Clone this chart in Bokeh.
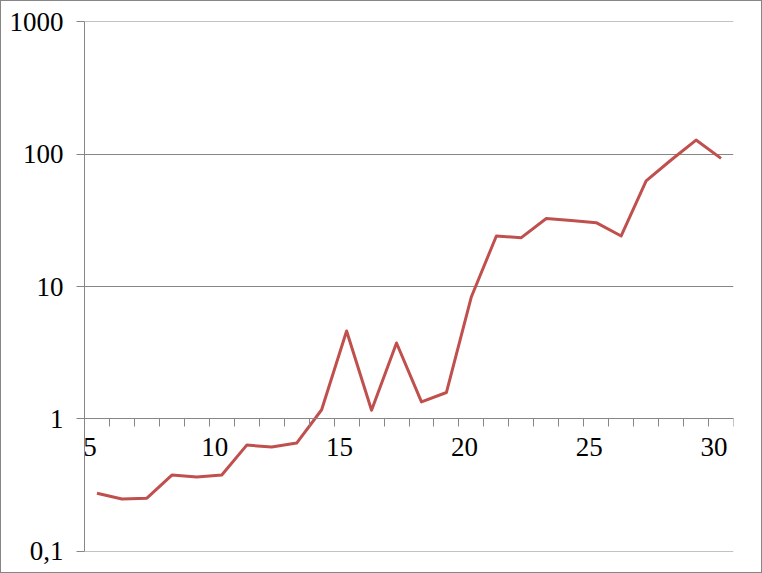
from bokeh.plotting import figure
from bokeh.models import FixedTicker, CustomJSTickFormatter
from bokeh.core.properties import value
from bokeh.embed import file_html
from bokeh.resources import INLINE

# ---- data ----
categories = list(range(5, 31))
values = [0.273, 0.247, 0.251, 0.375, 0.362, 0.375, 0.632, 0.611, 0.655, 1.17,
          4.61, 1.16, 3.74, 1.34, 1.58, 8.37, 24.1, 23.4, 32.7, 31.6,
          30.4, 24.1, 62.8, 90.5, 128.0, 93.1]
x_label_positions = [5, 10, 15, 20, 25, 30]
x_tick_labels = ["5", "10", "15", "20", "25", "30"]
y_ticks = [0.1, 1, 10, 100, 1000]
y_tick_labels = ["0,1", "1", "10", "100", "1000"]
x_boundaries = [c - 0.5 for c in categories] + [categories[-1] + 0.5]
y_cross = [1] * len(x_label_positions)

# ---- style ----
GRAY = "#868686"
RED = "#C0504D"
FONT = "Liberation Serif"
FS = "27px"
PAD = 10 ** 0.00378  # tiny log padding so the 0,1 and 1000 gridlines are not clipped

p = figure(width=762, height=573,
           x_range=(categories[0] - 0.5, categories[-1] + 0.5),
           y_range=(y_ticks[0] / PAD, y_ticks[-1] * PAD), y_axis_type="log",
           output_backend="svg", toolbar_location=None,
           min_border_left=84, min_border_right=29,
           min_border_top=21, min_border_bottom=22,
           styles={"box-shadow": f"inset 0 0 0 1px {GRAY}"})
p.outline_line_color = None
p.background_fill_color = None
p.border_fill_color = None

# x axis crossing at y = 1
xa = p.xaxis[0]
xa.fixed_location = 1
xa.ticker = FixedTicker(ticks=x_boundaries)
xa.formatter = CustomJSTickFormatter(code="return ''")
xa.major_label_text_font_size = "0px"
xa.major_tick_out = 8
xa.major_tick_in = 0
xa.minor_tick_out = 0
xa.minor_tick_in = 0
xa.axis_line_color = GRAY
xa.major_tick_line_color = GRAY
xa.major_label_standoff = 0
p.xgrid.visible = False

# y axis (log)
ya = p.yaxis[0]
ya.ticker = FixedTicker(ticks=y_ticks)
ya.major_label_overrides = dict(zip(y_ticks, y_tick_labels))
ya.major_tick_out = 8
ya.major_tick_in = 0
ya.minor_tick_out = 0
ya.minor_tick_in = 0
ya.axis_line_color = GRAY
ya.major_tick_line_color = GRAY
ya.major_label_standoff = 13
ya.major_label_text_font = FONT
ya.major_label_text_font_size = FS
ya.major_label_text_color = "black"
p.ygrid.ticker = FixedTicker(ticks=y_ticks)
p.ygrid.grid_line_color = GRAY
p.ygrid.grid_line_width = 1

# x tick labels placed under the crossing axis
p.text(x=x_label_positions, y=y_cross, text=x_tick_labels,
       text_font=value(FONT), text_font_size=value(FS), text_color="black",
       text_align="center", text_baseline="alphabetic",
       x_offset=-7, y_offset=28)

# series
p.line(categories, values, line_color=RED, line_width=3, line_join="round")

open("out.html", "w").write(file_html(p, INLINE))
